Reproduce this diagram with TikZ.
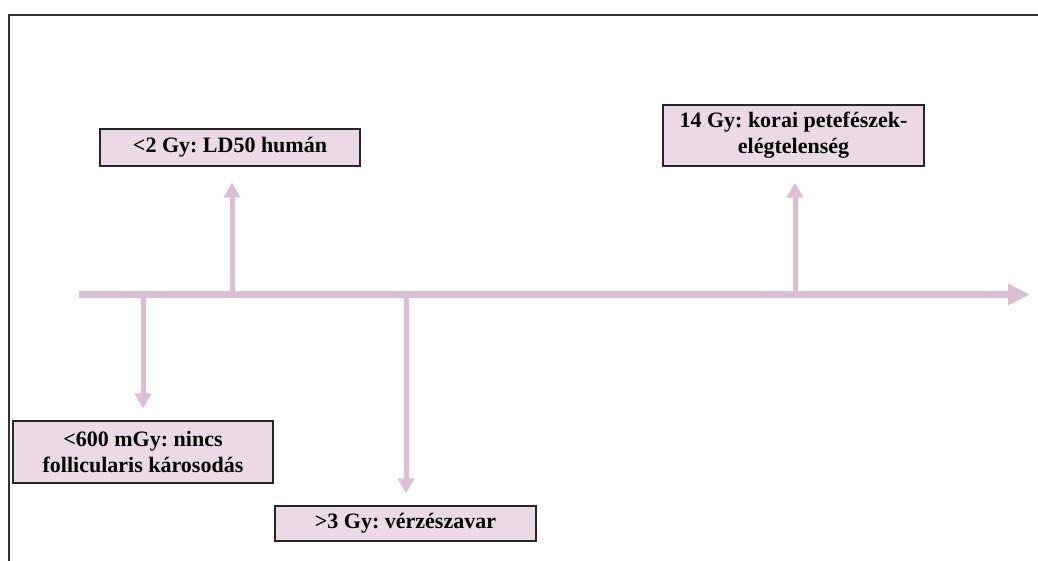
\documentclass[tikz,border=0pt]{standalone}
\usepackage{fontspec}
\setmainfont{Liberation Serif}
\usetikzlibrary{arrows.meta}
\definecolor{arrowpink}{HTML}{DCBED7}
\definecolor{boxpink}{HTML}{EBDAE6}
\definecolor{framegray}{HTML}{333333}
\tikzset{
  infobox/.style={draw=black!85, line width=1.2pt, fill=boxpink, align=center,
    font=\fontsize{22}{26}\selectfont\bfseries\frenchspacing, inner sep=0pt},
  branch/.style={draw=arrowpink, line width=5pt, -{Triangle[width=16pt,length=15pt]}, shorten >=13pt},
  axis/.style={draw=arrowpink, line width=7pt, -{Triangle[width=20pt,length=22pt]}},
}
\begin{document}
\begin{tikzpicture}[x=1pt,y=-1pt]
\useasboundingbox (0,0) rectangle (1038,561);
\draw[framegray, line width=2pt] (9,561) -- (9,15) -- (1038,15);

\coordinate (s) at (79,294.5);
\coordinate (e) at (1030,294.5);
\coordinate (t1) at (143,294.5);
\coordinate (t2) at (232,294.5);
\coordinate (t3) at (406,294.5);
\coordinate (t4) at (795,294.5);

\node[infobox, minimum width=260pt, minimum height=37pt] (b1) at (230,147.5) {<2 Gy: LD50 humán};
\node[infobox, minimum width=261pt, minimum height=61pt] (b2) at (793.5,135.5) {14 Gy: korai petefészek-\\elégtelenség};
\node[infobox, minimum width=260pt, minimum height=62pt] (b3) at (143,452) {<600 mGy: nincs\\follicularis károsodás};
\node[infobox, minimum width=261pt, minimum height=35pt] (b4) at (405.5,523.5) {>3 Gy: vérzészavar};

\draw[branch, shorten >=16pt] (t2) -- (t2 |- b1.south);
\draw[branch, shorten >=16pt] (t4) -- (t4 |- b2.south);
\draw[branch, shorten >=12pt] (t1) -- (t1 |- b3.north);
\draw[branch, shorten >=12pt] (t3) -- (t3 |- b4.north);
\draw[axis] (s) -- (e);
\end{tikzpicture}
\end{document}
